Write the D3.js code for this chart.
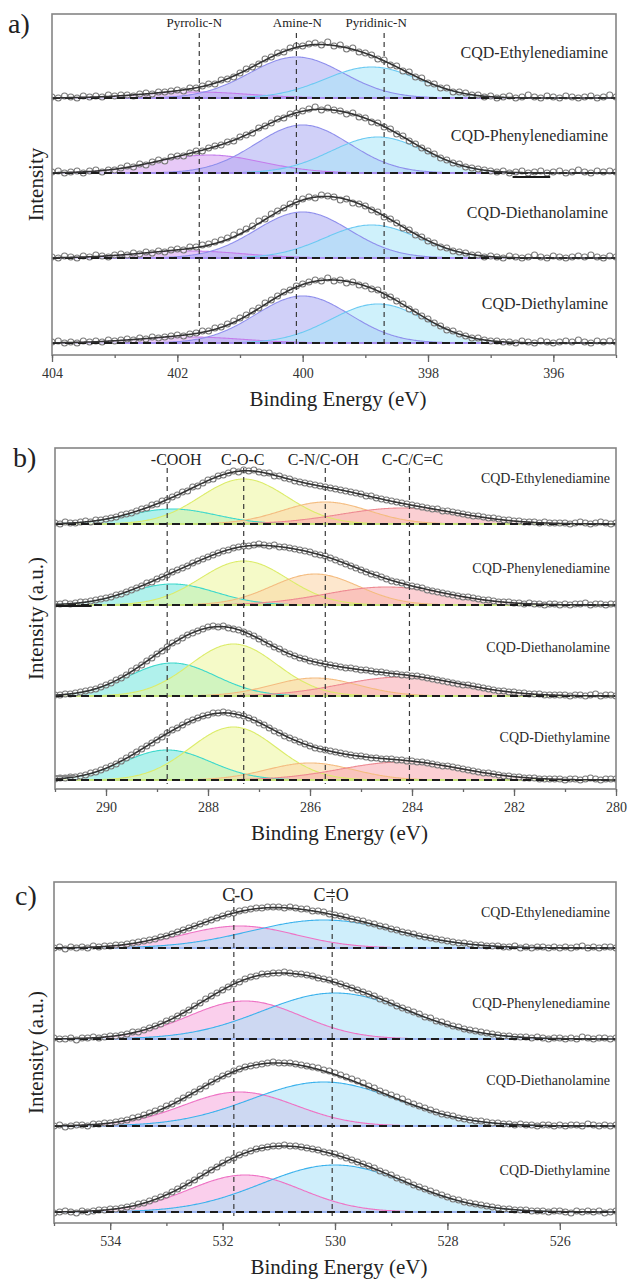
<!DOCTYPE html>
<html>
<head>
<meta charset="utf-8">
<script src="https://cdn.jsdelivr.net/npm/d3@7"></script>
<style>
  body { margin: 0; background: #fff; }
  svg text { font-family: "Liberation Serif", "DejaVu Serif", serif; }
</style>
</head>
<body>
<div id="chart"></div>
<script>
/* ---------- DATA ---------- */
const samples = ["CQD-Ethylenediamine", "CQD-Phenylenediamine", "CQD-Diethanolamine", "CQD-Diethylamine"];

// a) N 1s
const nTicks = [404, 402, 400, 398, 396];
const nRefNames = ["Pyrrolic-N", "Amine-N", "Pyridinic-N"];
const nRefPos = [401.65, 400.1, 398.7];
const nOffsets = [257, 182, 97, 12];
// fitted components per sample: [centre eV, height, sigma eV]
const nPeaks = [
  [[401.7, 6, 0.85], [400.1, 41, 0.75], [398.9, 31, 0.75]],
  [[401.5, 18, 0.85], [400.0, 48, 0.75], [398.8, 36, 0.75]],
  [[401.8, 7, 0.85], [400.0, 46, 0.75], [398.9, 33, 0.75]],
  [[401.8, 6, 0.85], [400.0, 47, 0.75], [398.8, 39, 0.75]]
];
// measured points, 404.0 eV down to 395.0 eV every 0.1 eV
const nData = [
  [1,0,2,1,0,2,1,2,1,3, 2,3,3,2,4,5,4,6,6,7, 8,7,10,10,12,14,14,18,19,21, 25,29,31,34,39,41,45,46,50,52,
   52,54,55,53,56,52,53,49,50,46, 45,43,39,38,33,32,27,26,21,20, 15,14,10,10,6,6,5,3,3,1, 2,0,1,2,0,1,3,1,0,2,
   1,0,2,1,0,1,2,0,1,3, 1],
  [1,2,0,1,2,0,2,3,1,3, 3,5,7,6,9,8,11,13,12,16, 17,17,20,22,22,25,27,28,31,32, 36,38,40,45,47,50,54,55,59,60,
   62,64,66,63,65,63,62,59,60,56, 55,51,50,46,44,39,37,32,29,25, 22,19,15,13,10,9,6,5,4,3, 2,1,2,0,1,2,0,1,2,0,
   1,2,0,1,3,1,0,2,1,2, 1],
  [1,0,2,1,0,2,1,3,2,1, 3,4,3,5,4,6,5,7,6,8, 9,8,11,11,13,14,16,18,20,23, 26,29,32,37,39,44,47,50,54,56,
   59,61,60,63,62,61,58,59,55,54, 52,48,46,41,39,35,30,28,23,21, 17,15,11,10,7,6,5,3,3,1, 2,1,0,2,1,0,1,3,1,0,
   2,1,0,1,2,1,3,1,0,2, 1],
  [1,2,0,1,0,2,1,2,1,3, 2,3,4,3,5,4,6,5,6,7, 8,7,9,10,12,12,15,16,19,22, 25,28,32,35,40,43,47,51,53,57,
   59,61,63,62,65,62,63,60,61,58, 57,54,53,48,46,42,39,34,31,27, 24,20,17,13,12,9,7,5,5,3, 2,2,1,1,0,2,1,0,2,1,
   0,1,2,1,3,1,0,2,1,2, 1]
];

// b) C 1s
const cTicks = [290, 288, 286, 284, 282, 280];
const cRefNames = ["-COOH", "C-O-C", "C-N/C-OH", "C-C/C=C"];
const cRefPos = [288.8, 287.3, 285.7, 284.05];
const cOffsets = [265, 184, 93, 9];
const cPeaks = [
  [[288.7, 15, 0.85], [287.3, 45, 0.85], [285.7, 22, 0.85], [284.2, 16, 1.2]],
  [[288.7, 21, 0.85], [287.3, 44, 0.85], [285.9, 31, 0.85], [284.5, 18, 1.2]],
  [[288.7, 33, 0.85], [287.5, 52, 0.85], [285.9, 18, 0.85], [284.2, 19, 1.2]],
  [[288.8, 30, 0.85], [287.5, 53, 0.85], [286.0, 17, 0.85], [284.2, 18, 1.2]]
];
// 291.0 eV down to 280.0 eV every 0.1 eV
const cData = [
  [1,0,2,1,1,2,3,2,4,4, 5,6,7,9,10,11,13,15,16,19, 20,23,24,27,29,32,33,37,38,41, 44,45,48,49,51,53,52,54,53,54,
   52,51,51,48,48,46,45,43,42,41, 40,39,38,37,36,35,34,33,32,31, 30,28,28,26,25,24,23,22,21,20, 19,18,17,16,15,15,13,13,12,11,
   10,9,8,8,7,6,6,5,4,4, 3,3,2,2,2,1,2,1,1,1, 1,0,1,2,1,0,1,2,1,0, 1],
  [1,1,2,1,2,3,3,4,5,6, 7,8,10,11,13,15,17,19,22,23, 26,28,30,33,35,37,39,42,44,46, 48,50,52,54,55,57,58,59,59,60,
   61,60,59,60,58,58,57,56,55,54, 53,51,50,49,47,45,43,41,39,37, 35,33,31,30,28,26,24,23,22,20, 19,18,17,15,14,13,12,11,10,9,
   8,8,7,6,5,5,4,3,3,3, 2,2,1,2,1,1,0,1,1,0, 1,0,1,1,2,0,1,1,0,1, 1],
  [1,1,2,2,3,4,5,6,7,9, 11,13,16,18,21,25,28,31,35,38, 42,45,49,53,55,58,61,63,65,67, 69,70,69,70,68,67,66,64,62,60,
   57,54,52,49,47,44,42,40,38,37, 35,34,33,32,31,30,29,28,28,27, 26,26,25,24,24,23,22,22,21,21, 20,20,19,18,17,16,15,14,13,12,
   11,11,10,9,8,7,6,5,5,4, 4,3,3,2,2,2,1,1,1,1, 1,0,1,1,0,1,2,0,1,1, 0],
  [1,2,2,3,3,4,5,7,8,10, 12,14,16,19,22,25,28,31,34,37, 40,43,47,50,52,55,58,60,62,64, 65,67,67,68,67,66,65,64,62,60,
   57,55,52,49,47,44,42,40,38,36, 34,32,31,30,29,28,27,26,25,24, 24,23,22,22,21,21,21,20,20,19, 19,18,18,17,16,15,14,14,13,12,
   11,10,9,8,7,7,6,5,4,4, 3,3,2,2,2,1,1,1,1,1, 0,1,1,0,1,2,1,0,1,1, 1]
];

// c) O 1s
const oTicks = [534, 532, 530, 528, 526];
const oRefNames = ["C-O", "C=O"];
const oRefPos = [531.8, 530.05];
const oOffsets = [275, 184, 97, 11];
const oPeaks = [
  [[531.7, 22, 1.0], [530.2, 28, 1.3]],
  [[531.6, 38, 1.0], [530.0, 46, 1.3]],
  [[531.7, 34, 1.0], [530.2, 44, 1.3]],
  [[531.6, 37, 1.0], [530.0, 47, 1.3]]
];
// 535.0 eV down to 525.0 eV every 0.1 eV
const oData = [
  [0,1,-1,1,0,1,0,2,1,2, 2,3,3,4,5,6,7,8,9,11, 12,14,16,18,20,22,24,26,28,30, 32,34,35,37,38,39,40,40,41,41,
   41,40,41,40,39,39,37,37,36,34, 33,32,31,29,28,27,25,24,22,21, 19,18,16,15,14,12,11,10,9,8, 7,6,5,5,4,3,3,2,2,2,
   1,1,2,0,1,0,1,1,0,1, 0,1,0,1,2,0,1,0,1,1, 0],
  [1,0,0,1,-1,1,1,2,1,2, 3,3,4,5,7,7,9,11,13,15, 18,20,23,26,29,33,36,40,43,46, 49,52,55,57,60,62,63,65,65,66,
   66,67,66,65,65,64,63,61,60,59, 57,55,53,51,49,47,45,43,40,38, 36,33,31,29,27,25,22,21,18,17, 15,13,12,10,9,8,7,6,5,4,
   3,3,2,2,2,1,2,1,0,1, 1,0,1,0,2,1,0,1,1,0, 1],
  [0,1,-1,0,1,1,0,2,2,3, 3,4,5,6,8,9,11,13,15,17, 20,22,25,28,31,34,37,40,44,47, 50,52,55,57,59,60,61,62,63,64,
   63,63,63,62,61,60,59,58,56,55, 53,51,49,47,45,43,40,38,35,33, 31,29,27,24,22,20,18,16,14,12, 11,10,8,7,6,5,5,4,3,3,
   2,2,1,2,1,1,0,1,1,0, 1,0,1,1,0,2,1,0,1,0, 1],
  [-1,0,1,0,-1,1,0,1,2,2, 3,3,4,5,6,8,9,11,13,15, 17,20,23,26,29,32,36,39,42,45, 49,52,54,57,59,61,63,64,65,66,
   66,67,66,66,65,64,63,62,60,59, 58,56,54,52,50,48,46,44,41,39, 37,34,32,30,27,25,23,21,19,17, 15,13,12,10,9,8,7,6,5,4,
   3,3,2,2,2,1,1,1,0,1, 1,0,-1,1,0,1,0,1,-1,0, 1]
];

// stray strokes in the original figure: [panel, row, from eV, to eV, level]
const strays = [[0, 1, 396.65, 396.05, -4], [1, 1, 291.0, 290.28, -1], [1, 3, 291.0, 290.6, 4]];

/* ---------- LAYOUT / STYLE ---------- */
const W = 630, H = 1281, span = 341;
const serif = "'Liberation Serif', 'DejaVu Serif', serif";

const panels = [
  { tag: "a)", tagX: 8, tagY: 33, left: 52, right: 616, top: 14, domain: [404, 395],
    ticks: nTicks, refNames: nRefNames, refPos: nRefPos, refDx: [-5, 1, -8], refY: 27, refTop: 33, refSize: 13,
    offsets: nOffsets, peaks: nPeaks, data: nData, yTitle: "Intensity",
    nameSize: 16, nameX: 608, nameDy: [46, 38, 46, 40], titleY: 406, baseColor: "#a890f0",
    colors: [{ fill: "#d49cf0", line: "#c47cec" }, { fill: "#a9a9f2", line: "#8f8fec" }, { fill: "#a8e6f8", line: "#6ccaf2" }] },
  { tag: "b)", tagX: 13, tagY: 467, left: 55, right: 616, top: 448, domain: [291, 280],
    ticks: cTicks, refNames: cRefNames, refPos: cRefPos, refDx: [9, -1, -2, 3], refY: 465, refTop: 468, refSize: 16,
    offsets: cOffsets, peaks: cPeaks, data: cData, yTitle: "Intensity (a.u.)",
    nameSize: 14, nameX: 610, nameDy: [46, 37, 49, 43], titleY: 840, baseColor: "#c8e67e",
    colors: [{ fill: "#6fe6dc", line: "#3ed8cc" }, { fill: "#ecf59a", line: "#dcec6a" },
             { fill: "#fbd4a4", line: "#f4bc80" }, { fill: "#f7a8ae", line: "#ee8a92" }] },
  { tag: "c)", tagX: 15, tagY: 905, left: 54, right: 616, top: 882, domain: [535, 525],
    ticks: oTicks, refNames: oRefNames, refPos: oRefPos, refDx: [4, -1], refY: 901, refTop: 889, refSize: 18,
    offsets: oOffsets, peaks: oPeaks, data: oData, yTitle: "Intensity (a.u.)",
    nameSize: 14, nameX: 610, nameDy: [36, 36, 46, 42], titleY: 1274, baseColor: "#9cb4f0",
    colors: [{ fill: "#f6a8dc", line: "#ee72c4" }, { fill: "#a8e0f8", line: "#3cb2ec" }] }
];

const gauss = (e, p) => p[1] * Math.exp(-0.5 * ((e - p[0]) / p[2]) ** 2);

const svg = d3.select("#chart").append("svg")
  .attr("width", W).attr("height", H)
  .attr("font-family", serif);

panels.forEach((P, pi) => {
  const bottom = P.top + span;
  const x = d3.scaleLinear().domain(P.domain).range([P.left, P.right]);
  const y = d3.scaleLinear().domain([0, span]).range([bottom, P.top]);
  const start = P.domain[0];
  const grid = d3.range(P.domain[1], P.domain[0] + 0.001, 0.02);

  const g = svg.append("g");
  const clipId = "clip" + pi;
  svg.append("clipPath").attr("id", clipId).append("rect")
    .attr("x", P.left).attr("y", P.top).attr("width", P.right - P.left).attr("height", bottom - P.top);
  const plot = g.append("g").attr("clip-path", `url(#${clipId})`);

  P.offsets.forEach((off, i) => {
    const row = plot.append("g");
    const comps = P.peaks[i];

    // component fills + outlines
    comps.forEach((p, j) => {
      const area = d3.area().x(e => x(e)).y0(y(off)).y1(e => y(off + gauss(e, p)));
      row.append("path").attr("d", area(grid))
        .attr("fill", P.colors[j].fill).attr("fill-opacity", 0.55);
    });
    comps.forEach((p, j) => {
      const line = d3.line().x(e => x(e)).y(e => y(off + gauss(e, p)));
      row.append("path").attr("d", line(grid))
        .attr("fill", "none").attr("stroke", P.colors[j].line).attr("stroke-width", 1.1);
    });
    row.append("line")
      .attr("x1", P.left).attr("x2", P.right).attr("y1", y(off)).attr("y2", y(off))
      .attr("stroke", P.baseColor).attr("stroke-width", 2);

    // measured points
    row.selectAll("circle").data(P.data[i]).join("circle")
      .attr("cx", (v, k) => x(start - k / 10))
      .attr("cy", v => y(off + v))
      .attr("r", 3)
      .attr("fill", "#fff").attr("fill-opacity", 0.6)
      .attr("stroke", "#7a7a7a").attr("stroke-width", 1.1);

    // dashed baseline
    row.append("line")
      .attr("x1", P.left).attr("x2", P.right).attr("y1", y(off)).attr("y2", y(off))
      .attr("stroke", "#1c1c1c").attr("stroke-width", 1.8).attr("stroke-dasharray", "8,5");

    // fit envelope
    const env = d3.line().x(e => x(e)).y(e => y(off + d3.sum(comps, p => gauss(e, p))));
    row.append("path").attr("d", env(grid))
      .attr("fill", "none").attr("stroke", "#333").attr("stroke-width", 1.6);

    g.append("text")
      .attr("x", P.nameX).attr("y", y(off + P.nameDy[i]) + P.nameSize * 0.35)
      .attr("text-anchor", "end").attr("font-size", P.nameSize).attr("fill", "#2a2a2a")
      .attr("font-family", serif)
      .text(samples[i]);
  });

  strays.filter(s => s[0] === pi).forEach(s => {
    plot.append("line")
      .attr("x1", x(s[2])).attr("x2", x(s[3]))
      .attr("y1", y(P.offsets[s[1]] + s[4])).attr("y2", y(P.offsets[s[1]] + s[4]))
      .attr("stroke", s[0] === 1 && s[1] === 3 ? "#888" : "#1a1a1a").attr("stroke-width", 2);
  });

  // reference lines and their names
  P.refPos.forEach((e, k) => {
    g.append("line")
      .attr("x1", x(e)).attr("x2", x(e))
      .attr("y1", P.refTop).attr("y2", y(P.offsets[3]) + 4)
      .attr("stroke", "#3a3a3a").attr("stroke-width", 1.2).attr("stroke-dasharray", "5,4");
    g.append("text")
      .attr("x", x(e) + P.refDx[k]).attr("y", P.refY)
      .attr("text-anchor", "middle").attr("font-size", P.refSize).attr("fill", "#222")
      .attr("font-family", serif)
      .text(P.refNames[k]);
  });

  // frame
  g.append("rect")
    .attr("x", P.left).attr("y", P.top).attr("width", P.right - P.left).attr("height", bottom - P.top)
    .attr("fill", "none").attr("stroke", "#858585").attr("stroke-width", 1.6);

  // x axis: major + minor ticks
  const minor = d3.range(Math.ceil(P.domain[1]), P.domain[0] + 0.5, 1);
  const axMinor = g.append("g").attr("transform", `translate(0,${bottom})`)
    .call(d3.axisBottom(x).tickValues(minor).tickSize(3).tickFormat(""));
  const axMajor = g.append("g").attr("transform", `translate(0,${bottom})`)
    .call(d3.axisBottom(x).tickValues(P.ticks).tickSize(7).tickPadding(6).tickFormat(d3.format("d")));
  [axMinor, axMajor].forEach(a => {
    a.attr("font-family", serif);
    a.select(".domain").remove();
    a.selectAll("line").attr("stroke", "#666").attr("stroke-width", 1.3);
    a.selectAll("text").attr("font-size", 14).attr("fill", "#333");
  });

  // titles
  g.append("text")
    .attr("x", (P.left + P.right) / 2 + 4).attr("y", P.titleY)
    .attr("text-anchor", "middle").attr("font-size", 21).attr("fill", "#222")
    .attr("font-family", serif)
    .text("Binding Energy (eV)");
  g.append("text")
    .attr("transform", `translate(43,${(P.top + bottom) / 2}) rotate(-90)`)
    .attr("text-anchor", "middle").attr("font-size", 21).attr("fill", "#222")
    .attr("font-family", serif)
    .text(P.yTitle);
  g.append("text")
    .attr("x", P.tagX).attr("y", P.tagY)
    .attr("font-size", 28).attr("fill", "#222")
    .attr("font-family", serif)
    .text(P.tag);
});
</script>
</body>
</html>
